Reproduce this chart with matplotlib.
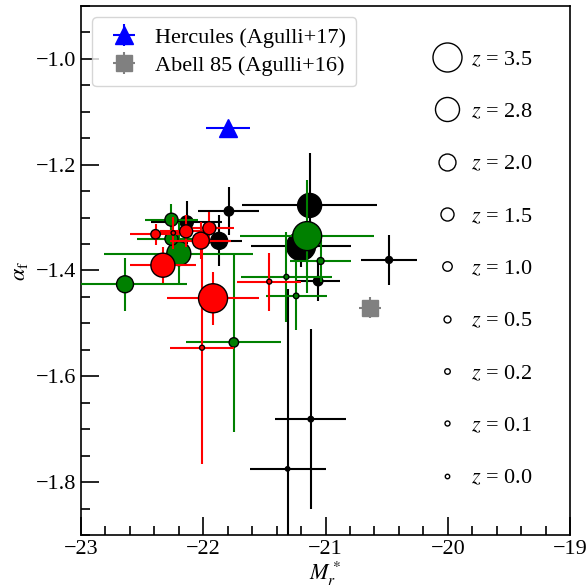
import numpy as np
import matplotlib
matplotlib.use('Agg')
import matplotlib.pyplot as plt
from matplotlib.lines import Line2D
from matplotlib.ticker import MultipleLocator

plt.rcParams['font.family'] = 'serif'
plt.rcParams['font.serif'] = ['Liberation Serif', 'DejaVu Serif']
plt.rcParams['mathtext.fontset'] = 'stix'

# redshift legend levels and their marker sizes (pt)
z_levels = [0.0, 0.1, 0.2, 0.5, 1.0, 1.5, 2.0, 2.8, 3.5]
z_ms = [3.2, 3.6, 4.0, 5.0, 6.8, 9.4, 12.2, 17.3, 20.9]

# black sample
blk_M = [-21.13, -21.20, -21.79, -21.87, -22.135, -20.48, -21.06, -21.12, -21.31]
blk_a = [-1.277, -1.354, -1.288, -1.344, -1.309, -1.380, -1.420, -1.681, -1.775]
blk_Me = [0.55, 0.41, 0.25, 0.19, 0.29, 0.23, 0.175, 0.29, 0.31]
blk_ae = [0.10, 0.04, 0.045, 0.048, 0.04, 0.047, 0.038, 0.17, 0.34]
blk_z = [2.8, 3.5, 1.0, 2.0, 1.5, 0.5, 1.0, 0.2, 0.0]

# green sample
grn_M = [-21.15, -22.20, -22.64, -22.26, -22.26, -21.75, -21.04, -21.32, -21.24]
grn_a = [-1.335, -1.368, -1.426, -1.304, -1.340, -1.536, -1.382, -1.412, -1.448]
grn_Me = [0.55, 0.61, 0.51, 0.22, 0.28, 0.39, 0.25, 0.37, 0.25]
grn_ae = [0.107, 0.06, 0.05, 0.03, 0.04, 0.17, 0.04, 0.085, 0.065]
grn_z = [3.5, 2.8, 2.0, 1.5, 1.5, 1.0, 0.5, 0.1, 0.2]

# red sample
red_M = [-21.92, -22.33, -22.02, -22.01, -21.95, -22.14, -22.39, -22.245, -21.46]
red_a = [-1.4525, -1.390, -1.3435, -1.546, -1.320, -1.326, -1.3315, -1.329, -1.421]
red_Me = [0.38, 0.27, 0.25, 0.26, 0.20, 0.21, 0.21, 0.12, 0.26]
red_ae = [0.05, 0.034, 0.035, 0.22, 0.03, 0.03, 0.02, 0.03, 0.055]
red_z = [3.5, 2.8, 2.0, 0.1, 1.5, 1.5, 1.0, 0.0, 0.1]

# local clusters
her_M, her_a, her_Me, her_ae = -21.80, -1.13, 0.18, 0.008
a85_M, a85_a, a85_Me, a85_ae = -20.64, -1.47, 0.09, 0.02

fs = 16

fig = plt.figure(figsize=(5.88, 5.88), dpi=100)
ax = fig.add_axes([81/588, 53/588, 489/588, 529/588])

samples = [(blk_M, blk_a, blk_Me, blk_ae, blk_z, 'black'),
           (grn_M, grn_a, grn_Me, grn_ae, grn_z, 'green'),
           (red_M, red_a, red_Me, red_ae, red_z, 'red')]

zo = 2
for M, a, Me, ae, z, c in samples:
    ax.errorbar(M, a, xerr=Me, yerr=ae, fmt='none', ecolor=c,
                elinewidth=1.5, capsize=0, zorder=zo)
    ms = np.interp(z, z_levels, z_ms)
    ax.scatter(M, a, s=ms**2, c=c, edgecolors='k', linewidths=1.0,
               zorder=zo + 0.5)
    zo += 1

h1 = ax.errorbar(her_M, her_a, xerr=her_Me, yerr=her_ae, fmt='^', color='blue',
                 ms=13, elinewidth=1.5, capsize=0, zorder=6,
                 label='Hercules (Agulli+17)')
h2 = ax.errorbar(a85_M, a85_a, xerr=a85_Me, yerr=a85_ae, fmt='s', color='gray',
                 ms=11, elinewidth=1.5, capsize=0, zorder=6,
                 label='Abell 85 (Agulli+16)')

leg1 = ax.legend(handles=[h1, h2], loc='upper left', fontsize=fs,
                 handletextpad=0.4, borderpad=0.45, labelspacing=0.35)
ax.add_artist(leg1)

zh = [Line2D([], [], ls='none', marker='o', mfc='none', mec='k', mew=1.0,
             ms=np.interp(zz, z_levels, z_ms)) for zz in z_levels[::-1]]
zl = ['$z$ = %.1f' % zz for zz in z_levels[::-1]]
ax.legend(handles=zh, labels=zl, loc='upper right', frameon=False,
          fontsize=fs, labelspacing=1.43, handletextpad=0.1,
          bbox_to_anchor=(0.965, 0.956))

ax.set_xlim(-23, -19)
ax.set_ylim(-1.9, -0.9)
ax.xaxis.set_major_locator(MultipleLocator(1))
ax.xaxis.set_minor_locator(MultipleLocator(0.2))
ax.yaxis.set_major_locator(MultipleLocator(0.2))
ax.yaxis.set_minor_locator(MultipleLocator(0.05))
ax.tick_params(which='both', direction='in', top=False, right=False,
               labelsize=fs, width=1.2)
ax.tick_params(which='major', length=13)
ax.tick_params(which='minor', length=6.5)
for s in ax.spines.values():
    s.set_linewidth(1.2)

ax.set_xlabel(r'$M_r^*$', fontsize=fs, labelpad=1)
ax.set_ylabel(r'$\alpha_{\rm f}$', fontsize=fs, labelpad=4)

fig.savefig('out.png', dpi=100)
